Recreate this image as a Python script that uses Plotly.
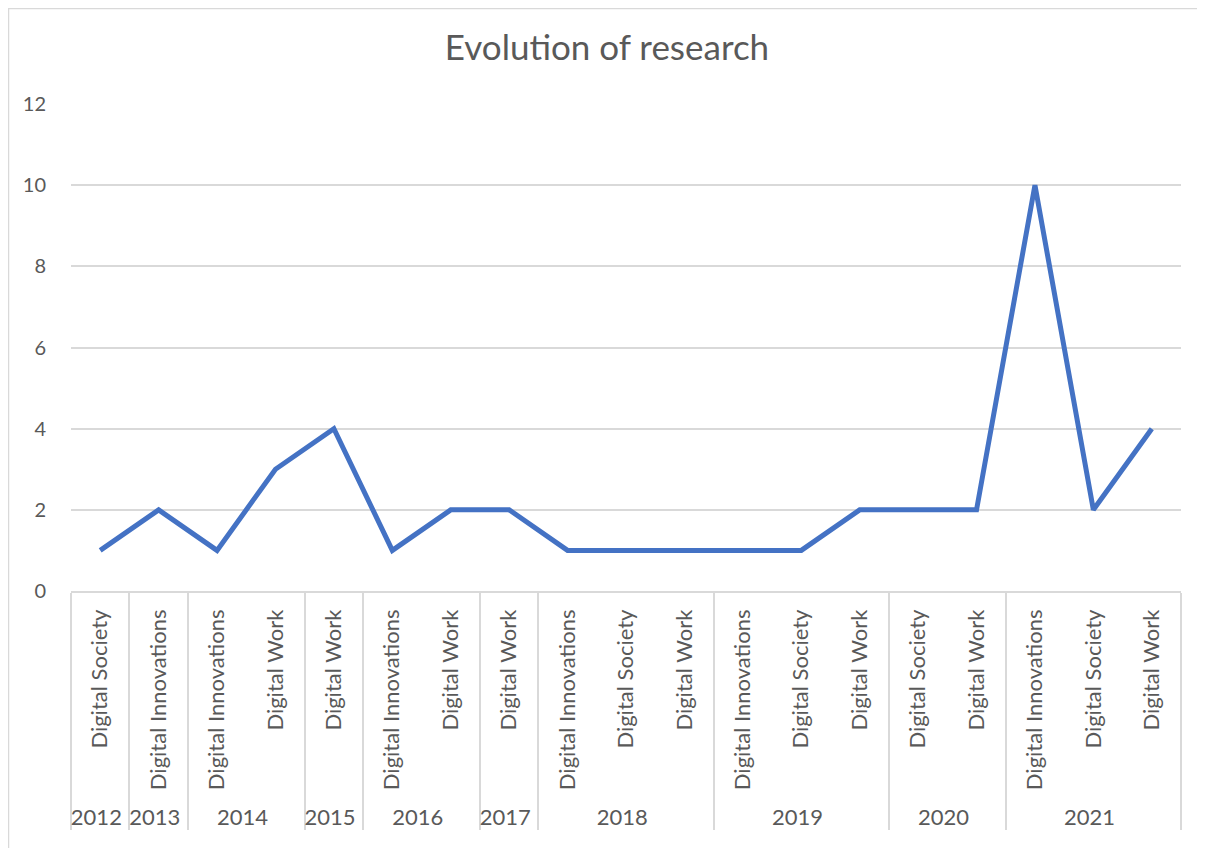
import plotly.graph_objects as go

years = ["2012", "2013", "2014", "2014", "2015", "2016", "2016", "2017",
         "2018", "2018", "2018", "2019", "2019", "2019", "2020", "2020",
         "2021", "2021", "2021"]
topics = ["Digital Society", "Digital Innovations", "Digital Innovations", "Digital Work",
          "Digital Work", "Digital Innovations", "Digital Work", "Digital Work",
          "Digital Innovations", "Digital Society", "Digital Work",
          "Digital Innovations", "Digital Society", "Digital Work",
          "Digital Society", "Digital Work",
          "Digital Innovations", "Digital Society", "Digital Work"]
counts = [1, 2, 1, 3, 4, 1, 2, 2, 1, 1, 1, 1, 1, 2, 2, 2, 10, 2, 4]

# Plotly orders multicategory inner labels by global first appearance;
# zero-width spaces keep each inner label distinct so data order is kept.
inner = [t + "\u200b" * i for i, t in enumerate(topics)]

FONT = "Lato, Carlito, Calibri, sans-serif"
GREY = "#595959"
LINE = "#D9D9D9"

L, R, T, B = 63, 32, 96, 265
W, H = 1205, 848
PW, PH = W - L - R, H - T - B

fig = go.Figure()
fig.add_trace(go.Scatter(
    x=[years, inner], y=counts, mode="lines",
    line=dict(color="#4472C4", width=5),
    showlegend=False, hoverinfo="y",
))

fig.update_layout(
    width=W, height=H,
    margin=dict(l=L, r=R, t=T, b=B, autoexpand=False),
    paper_bgcolor="white", plot_bgcolor="white",
    title=dict(text="Evolution of research", x=599 / W, xanchor="center",
               y=1 - 40 / H, yanchor="middle",
               font=dict(family=FONT, size=35, color=GREY)),
    font=dict(family=FONT, color=GREY),
    shapes=[dict(type="rect", xref="paper", yref="paper",
                 x0=(0.5 - L) / PW, x1=(W + 10 - L) / PW,
                 y0=(PH + T - H - 10) / PH, y1=(PH + T - 0.5) / PH,
                 line=dict(color=LINE, width=1.5), layer="below")],
)
fig.update_xaxes(
    type="multicategory", tickangle=-90,
    range=[-0.5, len(counts) - 0.5],
    tickfont=dict(family=FONT, size=22, color=GREY),
    ticklabelstandoff=8,
    showline=True, linecolor=LINE, linewidth=1.5,
    showgrid=False, ticks="",
    showdividers=True, dividercolor=LINE, dividerwidth=1.5,
)
fig.update_yaxes(
    range=[0, 12], dtick=2, tick0=0,
    showgrid=True, gridcolor=LINE, gridwidth=1.5,
    zeroline=False, showline=False, ticks="",
    ticklabelstandoff=24,
    tickfont=dict(family=FONT, size=20, color=GREY),
)

fig.write_html("out.html")
